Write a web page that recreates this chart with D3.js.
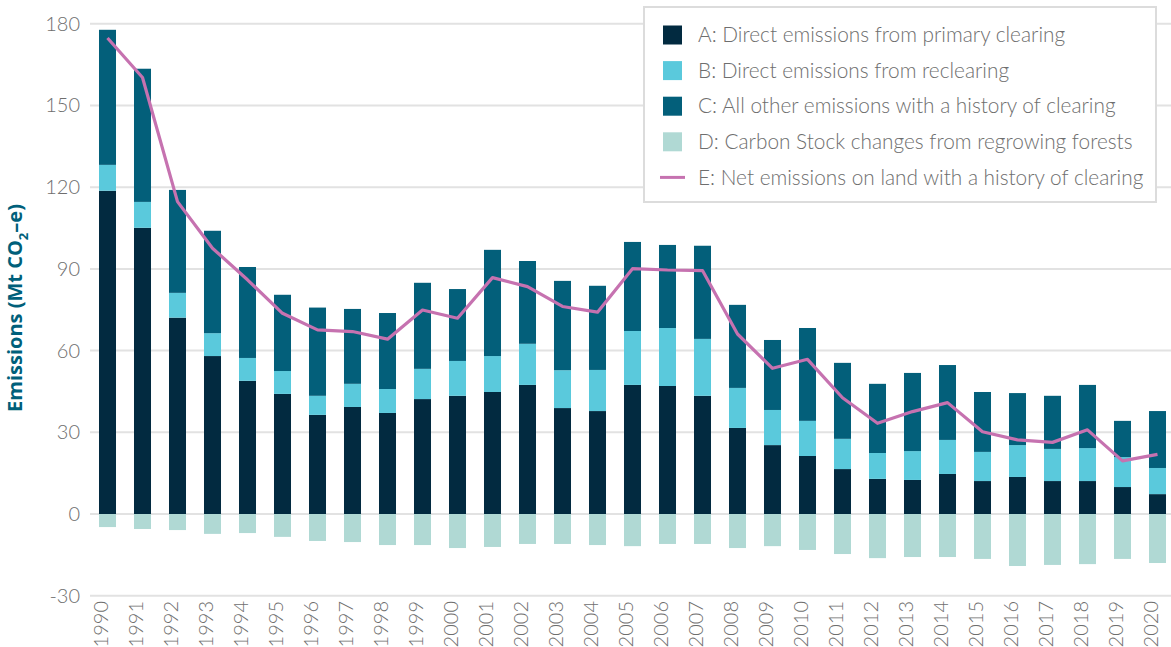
<!DOCTYPE html>
<html>
<head>
<meta charset="utf-8">
<script src="https://cdn.jsdelivr.net/npm/d3@7"></script>
<style>
  body { margin: 0; background: #fff; }
  text { font-family: Lato, "Open Sans", sans-serif; }
</style>
</head>
<body>
<div id="chart"></div>
<script>
// Data

var years = ["1990", "1991", "1992", "1993", "1994", "1995", "1996", "1997", "1998", "1999",
  "2000", "2001", "2002", "2003", "2004", "2005", "2006", "2007", "2008", "2009",
  "2010", "2011", "2012", "2013", "2014", "2015", "2016", "2017", "2018", "2019", "2020"];

// A: direct emissions from primary clearing
var primary = [118.7, 105.1, 72.1, 58.0, 48.9, 44.1, 36.4, 39.3, 37.1, 42.2,
  43.4, 44.8, 47.4, 38.9, 37.8, 47.4, 47.0, 43.4, 31.6, 25.3,
  21.3, 16.5, 12.9, 12.5, 14.7, 12.1, 13.6, 12.1, 12.1, 9.9, 7.3];

// B: direct emissions from reclearing
var reclearing = [9.5, 9.5, 9.1, 8.4, 8.4, 8.4, 7.0, 8.5, 8.8, 11.1,
  12.8, 13.2, 15.1, 13.9, 15.1, 19.8, 21.3, 20.9, 14.7, 12.9,
  12.9, 11.1, 9.5, 10.6, 12.5, 10.7, 11.7, 11.8, 12.1, 11.0, 9.6];

// C: all other emissions with a history of clearing
var otherEmissions = [49.6, 48.9, 37.8, 37.6, 33.4, 28.0, 32.4, 27.5, 27.9, 31.6,
  26.4, 39.0, 30.4, 32.8, 30.9, 32.7, 30.5, 34.2, 30.5, 25.7,
  34.1, 27.9, 25.4, 28.7, 27.5, 22.0, 19.1, 19.5, 23.2, 13.3, 20.9];

// D: carbon stock changes from regrowing forests
var regrowth = [-4.8, -5.5, -5.9, -7.3, -7.0, -8.4, -9.9, -10.3, -11.4, -11.4,
  -12.5, -12.1, -11.0, -11.0, -11.4, -11.8, -11.0, -11.0, -12.5, -11.8,
  -13.2, -14.7, -16.2, -15.8, -15.8, -16.5, -19.1, -18.7, -18.4, -16.5, -18.0];

// E: net emissions
var netEmissions = [174.8, 160.3, 114.7, 97.6, 86.0, 73.7, 67.6, 67.0, 64.2, 74.9,
  71.9, 86.8, 83.5, 76.2, 74.1, 90.1, 89.6, 89.4, 66.1, 53.5,
  56.8, 42.7, 33.3, 37.6, 40.9, 30.2, 27.2, 26.3, 30.9, 19.5, 21.9];

var yTicks = [-30, 0, 30, 60, 90, 120, 150, 180];

var legendLabels = [
  "A: Direct emissions from primary clearing",
  "B: Direct emissions from reclearing",
  "C: All other emissions with a history of clearing",
  "D: Carbon Stock changes from regrowing forests",
  "E: Net emissions on land with a history of clearing"
];

var colors = {A: "#022a40", B: "#5ac9dc", C: "#035f7a", D: "#b0d9d4", E: "#c672b0"};

var fullWidth = 1171, fullHeight = 647;

var svg = d3.select("#chart").append("svg")
    .attr("width", fullWidth)
    .attr("height", fullHeight);

var x = d3.scaleBand()
    .domain(years)
    .range([90, 1175])
    .paddingInner(0.514)
    .paddingOuter(0.257);

var y = d3.scaleLinear()
    .domain([-30, 180])
    .range([595.7, 23.8]);

// gridlines
svg.append("g").selectAll(".grid")
    .data(yTicks)
    .enter().append("line")
    .attr("class", "grid")
    .attr("x1", 90)
    .attr("x2", fullWidth)
    .attr("y1", function(d) { return y(d); })
    .attr("y2", function(d) { return y(d); })
    .attr("stroke", "#e2e2e2")
    .attr("stroke-width", 2);

// y axis
var yAxis = d3.axisLeft(y)
    .tickValues(yTicks)
    .tickFormat(function(d) { return String(d); })
    .tickSize(0)
    .tickPadding(0);
var yG = svg.append("g")
    .attr("transform", "translate(80,0)")
    .call(yAxis);
yG.select(".domain").remove();
yG.selectAll("text")
    .attr("fill", "#6e6e6e")
    .style("font-size", "20px")
    .style("font-weight", 300)
    .style("font-family", "Lato, sans-serif");

// y axis title
var yTitle = svg.append("text")
    .attr("transform", "translate(22,308) rotate(-90)")
    .attr("text-anchor", "middle")
    .attr("fill", "#005f7a")
    .style("font-size", "20px")
    .style("font-weight", "bold")
    .style("font-family", "'Open Sans', sans-serif");
yTitle.append("tspan").text("Emissions (Mt CO");
yTitle.append("tspan").text("2").attr("dy", "6").style("font-size", "13px");
yTitle.append("tspan").text("–e)").attr("dy", "-6");

// x axis labels
var xAxis = d3.axisBottom(x).tickSize(0).tickPadding(0);
var xG = svg.append("g")
    .attr("transform", "translate(0,601)")
    .call(xAxis);
xG.select(".domain").remove();
xG.selectAll("text")
    .attr("transform", "rotate(-90)")
    .attr("text-anchor", "end")
    .attr("x", 0)
    .attr("y", 0)
    .attr("dy", "0.3em")
    .attr("dx", 0)
    .attr("fill", "#6e6e6e")
    .style("font-size", "20px")
    .style("font-weight", 300)
    .style("font-family", "Lato, sans-serif");
xG.selectAll(".tick").attr("transform", function(d) {
  return "translate(" + (x(d) + x.bandwidth() / 2 - 6) + ",0)";
});

// stacked bars
var rows = years.map(function(yr, i) {
  return {year: yr, A: primary[i], B: reclearing[i], C: otherEmissions[i], D: regrowth[i]};
});

var stack = d3.stack().keys(["A", "B", "C"]);
var series = stack(rows);

svg.append("g").selectAll(".series")
    .data(series)
    .enter().append("g")
    .attr("class", "series")
    .attr("fill", function(d) { return colors[d.key]; })
    .selectAll("rect")
    .data(function(d) { return d; })
    .enter().append("rect")
    .attr("x", function(d) { return x(d.data.year); })
    .attr("width", x.bandwidth())
    .attr("y", function(d) { return y(d[1]); })
    .attr("height", function(d) { return y(d[0]) - y(d[1]); });

svg.append("g").selectAll(".regrow")
    .data(rows)
    .enter().append("rect")
    .attr("class", "regrow")
    .attr("fill", colors.D)
    .attr("x", function(d) { return x(d.year); })
    .attr("width", x.bandwidth())
    .attr("y", y(0))
    .attr("height", function(d) { return y(d.D) - y(0); });

// net line
var line = d3.line()
    .x(function(d, i) { return x(years[i]) + x.bandwidth() / 2; })
    .y(function(d) { return y(d); });

svg.append("path")
    .datum(netEmissions)
    .attr("fill", "none")
    .attr("stroke", colors.E)
    .attr("stroke-width", 3.2)
    .attr("stroke-linejoin", "round")
    .attr("d", line);

// legend
var legend = svg.append("g").attr("transform", "translate(644,7)");
legend.append("rect")
    .attr("width", 512)
    .attr("height", 195)
    .attr("fill", "#fff")
    .attr("stroke", "#dcdcdc")
    .attr("stroke-width", 2);

var legendKeys = ["A", "B", "C", "D", "E"];
var items = legend.selectAll(".item")
    .data(legendKeys)
    .enter().append("g")
    .attr("class", "item")
    .attr("transform", function(d, i) { return "translate(0," + (28 + i * 35.6) + ")"; });

items.filter(function(d) { return d !== "E"; })
    .append("rect")
    .attr("x", 19)
    .attr("y", -9.5)
    .attr("width", 19)
    .attr("height", 19)
    .attr("fill", function(d) { return colors[d]; });

items.filter(function(d) { return d === "E"; })
    .append("line")
    .attr("x1", 16)
    .attr("x2", 41)
    .attr("stroke", colors.E)
    .attr("stroke-width", 3);

items.append("text")
    .attr("x", 54)
    .attr("dy", "0.35em")
    .attr("fill", "#6e6e6e")
    .style("font-size", "20.8px")
    .style("font-weight", 300)
    .style("font-family", "Lato, sans-serif")
    .text(function(d, i) { return legendLabels[i]; });
</script>
</body>
</html>
